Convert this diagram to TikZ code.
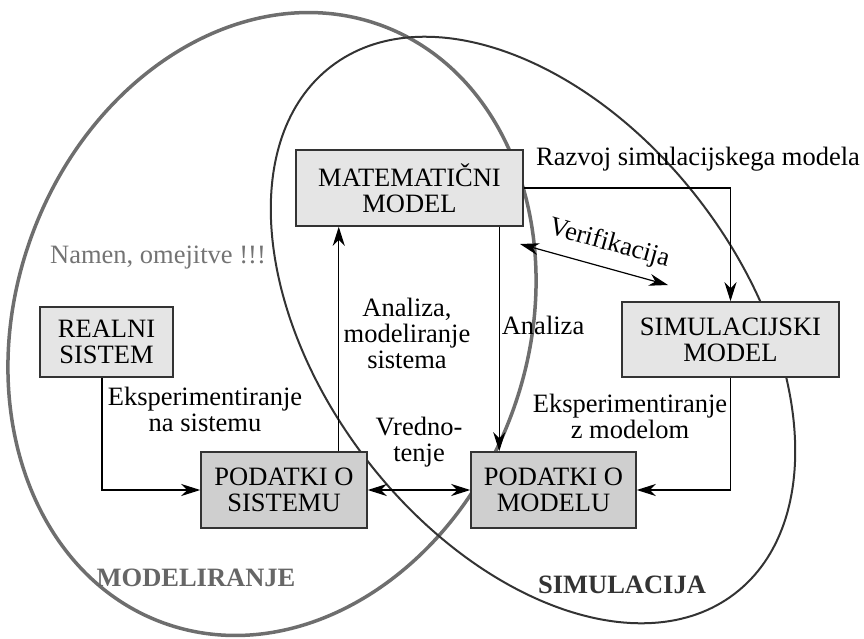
\documentclass[tikz,border=0pt]{standalone}
\usepackage{fontspec}
\setmainfont{Liberation Serif}
\usetikzlibrary{arrows.meta}

\begin{document}
\begin{tikzpicture}[x=1pt, y=-1pt,
    font=\fontsize{26.5}{26}\selectfont,
    >={Stealth[length=19pt, width=12pt, inset=6pt]},
    box/.style={rectangle, draw=black!80, line width=1.5pt, fill=black!10, align=center, inner sep=0pt},
    databox/.style={box, fill=black!19, minimum width=166pt, minimum height=76pt},
    arrow/.style={->, line width=1.2pt},
    dblarrow/.style={<->, line width=1.2pt},
    lbl/.style={align=center, inner sep=0pt}
]
\useasboundingbox (0,0) rectangle (864,638);
% Modeliranje (gray ellipse)
\draw[line width=3.5pt, black!57, rotate around={-20:(272,324)}] (272,324) ellipse [x radius=256pt, y radius=318pt];
% Simulacija (black ellipse)
\draw[line width=2pt, black!80, rotate around={37.4:(533,330)}] (533,330) ellipse [x radius=211pt, y radius=332pt];
% Matematicni model
\node[box, minimum width=227pt, minimum height=76pt] (mat) at (409.5,188) {MATEMATIČNI\\MODEL};
% Realni sistem
\node[box, minimum width=133pt, minimum height=70pt] (real) at (106.5,342) {REALNI\\SISTEM};
% Simulacijski model
\node[box, minimum width=217pt, minimum height=75pt] (sim) at (730.5,339.5) {SIMULACIJSKI\\MODEL};
% Podatki
\node[databox] (psis) at (284,490) {PODATKI O\\SISTEMU};
\node[databox, minimum width=165pt] (pmod) at (553.5,490) {PODATKI O\\MODELU};
% Arrows
\coordinate (modA) at ([xshift=-29pt]psis.north east);
\coordinate (anaA) at ([xshift=29pt]pmod.north west);
\coordinate (verA) at (520,244);
\coordinate (verB) at (668,285);
\draw[arrow] ([xshift=-4.5pt]real.south) |- (psis.west);
\draw[arrow] (modA) -- (modA |- mat.south);
\draw[arrow] (anaA |- mat.south) -- node[lbl, right=2pt, pos=0.44] {Analiza} (anaA);
\draw[arrow] (mat.east) -| (sim.north);
\draw[arrow] (sim.south) |- (pmod.east);
\draw[dblarrow] (psis) -- node[lbl, above=22pt] {Vredno-\\tenje} (pmod);
\draw[dblarrow] (verA) -- node[lbl, sloped, above=11pt, pos=0.56] {Verifikacija} (verB);
% Labels
\node[lbl, anchor=base] (razvoj) at (698,165) {Razvoj simulacijskega modela};
\node[lbl, anchor=base, text=black!55] (namen) at (158,263) {Namen, omejitve !!!};
\node[lbl] (analiza) at (407,333) {Analiza,\\modeliranje\\sistema};
\node[lbl] (eksis) at (205,409.5) {Eksperimentiranje\\na sistemu};
\node[lbl] (eksmod) at (630,416) {Eksperimentiranje\\z modelom};
\node[lbl, anchor=base, text=black!60, font=\fontsize{26.5}{26}\selectfont\bfseries] (modl) at (196,586) {MODELIRANJE};
\node[lbl, anchor=base, text=black!80, font=\fontsize{26.5}{26}\selectfont\bfseries] (siml) at (622,593) {SIMULACIJA};
\end{tikzpicture}
\end{document}
